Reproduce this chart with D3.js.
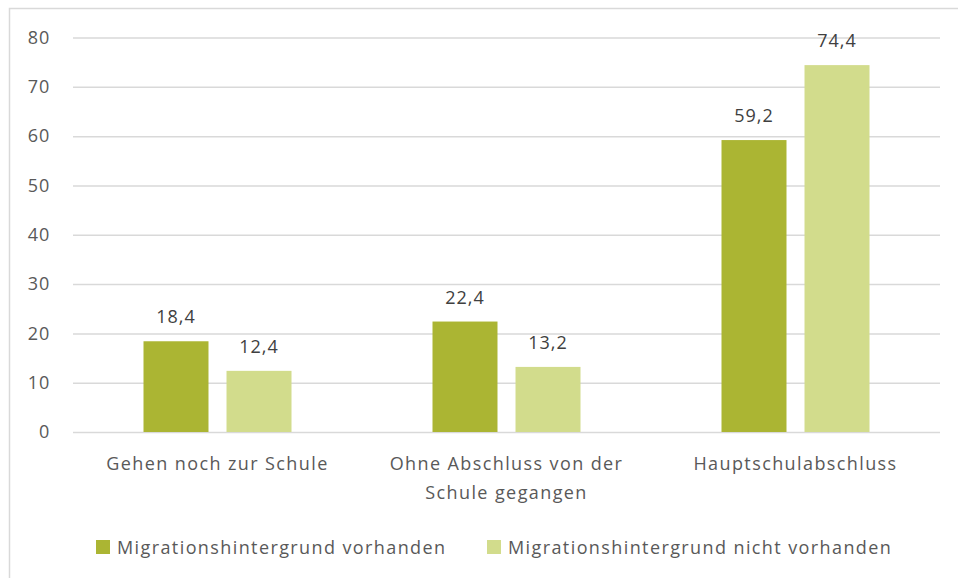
<!DOCTYPE html>
<html>
<head>
<meta charset="utf-8">
<script src="https://cdn.jsdelivr.net/npm/d3@7"></script>
<style>
  body { margin: 0; background: #fff; }
  svg text { font-family: "Open Sans", sans-serif; }
</style>
</head>
<body>
<svg id="chart" width="958" height="578"></svg>
<script>
// chart data
const categories = [
  ["Gehen noch zur Schule"],
  ["Ohne Abschluss von der", "Schule gegangen"],
  ["Hauptschulabschluss"]
];
const seriesNames = ["Migrationshintergrund vorhanden", "Migrationshintergrund nicht vorhanden"];
const withMigration = [18.4, 22.4, 59.2];
const withoutMigration = [12.4, 13.2, 74.4];
const yTicks = [0, 10, 20, 30, 40, 50, 60, 70, 80];
const colors = ["#abb533", "#d2dc8c"];

const svg = d3.select("#chart");
const margins = { top: 37.5, left: 73, right: 18, bottom: 146 };
const width = 958, height = 578;
const innerWidth = width - margins.left - margins.right;
const innerHeight = height - margins.top - margins.bottom;

// outer frame (runs off the right and bottom edge)
svg.append("path")
  .attr("d", `M9.5,${height} V8.5 H${width}`)
  .attr("fill", "none").attr("stroke", "#d9d9d9").attr("stroke-width", 1.5);

const g = svg.append("g").attr("transform", `translate(${margins.left},${margins.top})`);

const yScale = d3.scaleLinear().domain([0, 80]).range([innerHeight, 0]);
const x0 = d3.scaleBand().domain(d3.range(categories.length)).range([0, innerWidth]).padding(0);
const x1 = d3.scaleBand().domain([0, 1])
  .range([x0.bandwidth() / 2 - 74, x0.bandwidth() / 2 + 74])
  .paddingInner(0.217).paddingOuter(0);

// gridlines + y labels
const yAxis = d3.axisLeft(yScale).tickValues(yTicks).tickSize(-innerWidth).tickPadding(23);
const yAxisG = g.append("g").call(yAxis);
yAxisG.select(".domain").remove();
yAxisG.selectAll(".tick line").attr("stroke", "#d9d9d9").attr("stroke-width", 1.5);
yAxisG.selectAll(".tick text")
  .attr("fill", "#595959").style("font-size", "18px").style("letter-spacing", "0.8px");

// bars
const rows = categories.map((c, i) => ({ i, values: [withMigration[i], withoutMigration[i]] }));
const groups = g.selectAll("g.group").data(rows).enter().append("g")
  .attr("class", "group")
  .attr("transform", d => `translate(${x0(d.i)},0)`);

groups.selectAll("rect").data(d => d.values.map((v, s) => ({ v, s }))).enter().append("rect")
  .attr("x", d => x1(d.s))
  .attr("width", x1.bandwidth())
  .attr("y", d => yScale(d.v))
  .attr("height", d => innerHeight - yScale(d.v))
  .attr("fill", d => colors[d.s]);

groups.selectAll("text.val").data(d => d.values.map((v, s) => ({ v, s }))).enter().append("text")
  .attr("class", "val")
  .attr("x", d => x1(d.s) + x1.bandwidth() / 2)
  .attr("y", d => yScale(d.v) - 18)
  .attr("text-anchor", "middle")
  .attr("fill", "#404040")
  .style("font-size", "18px")
  .style("letter-spacing", "1px")
  .text(d => d3.format(".1f")(d.v).replace(".", ","));

// category labels
const catText = g.selectAll("text.cat").data(categories).enter().append("text")
  .attr("class", "cat")
  .attr("text-anchor", "middle")
  .attr("fill", "#595959")
  .style("font-size", "18px")
  .style("letter-spacing", "1.4px")
  .attr("transform", (d, i) => `translate(${x0(i) + x0.bandwidth() / 2},${innerHeight + 38})`);
catText.selectAll("tspan").data(d => d).enter().append("tspan")
  .attr("x", 0)
  .attr("dy", (d, i) => i === 0 ? 0 : 29)
  .text(d => d);

// legend
const legendX = [96, 487];
const legend = svg.selectAll("g.legend").data(seriesNames).enter().append("g")
  .attr("class", "legend")
  .attr("transform", (d, i) => `translate(${legendX[i]},540)`);
legend.append("rect").attr("width", 14).attr("height", 14).attr("fill", (d, i) => colors[i]);
legend.append("text")
  .attr("x", 21).attr("y", 13.5)
  .attr("fill", "#595959")
  .style("font-size", "18px")
  .style("letter-spacing", "1.4px")
  .text(d => d);
</script>
</body>
</html>
